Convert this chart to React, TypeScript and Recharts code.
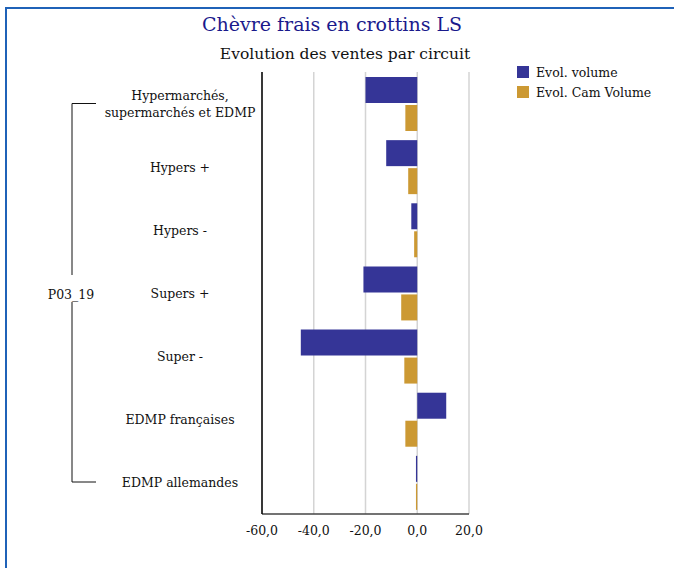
import { BarChart, Bar, XAxis, YAxis, CartesianGrid, Legend } from "recharts";

const circuits = [
  "Hypermarchés,\nsupermarchés et EDMP",
  "Hypers +",
  "Hypers -",
  "Supers +",
  "Super -",
  "EDMP françaises",
  "EDMP allemandes",
];
const evolVolume = [-20.0, -12.0, -2.3, -20.8, -45.0, 11.2, -0.5];
const evolCamVolume = [-4.6, -3.5, -1.2, -6.2, -5.0, -4.6, -0.5];
const xTicks = [-60, -40, -20, 0, 20];
const seriesNames = ["Evol. volume", "Evol. Cam Volume"];

const data = circuits.map((c, i) => ({
  circuit: c,
  volume: evolVolume[i],
  cam: evolCamVolume[i],
}));

const FONT = "'DejaVu Serif', serif";
const VOLUME_COLOR = "#353597";
const CAM_COLOR = "#cc9933";
const LABEL_X = 180;

const fmt = (v: number) => v.toFixed(1).replace(".", ",");

const CategoryTick = ({ y, payload }: any) => {
  const lines = String(payload.value).split("\n");
  const lh = 17;
  const start = y - ((lines.length - 1) * lh) / 2;
  return (
    <text
      x={LABEL_X}
      y={start}
      textAnchor="middle"
      dominantBaseline="central"
      fontFamily={FONT}
      fontSize={12.5}
      fill="#111"
    >
      {lines.map((l: string, i: number) => (
        <tspan key={i} x={LABEL_X} dy={i === 0 ? 0 : lh}>
          {l}
        </tspan>
      ))}
    </text>
  );
};

const LegendContent = ({ payload }: any) => {
  const items = [...(payload || [])].sort(
    (a: any, b: any) => seriesNames.indexOf(a.value) - seriesNames.indexOf(b.value)
  );
  return (
    <div style={{ fontFamily: FONT, fontSize: 12.5, color: "#111" }}>
      {items.map((p: any) => (
        <div key={p.value} style={{ display: "flex", alignItems: "center", height: 20 }}>
          <span style={{ width: 12, height: 12, background: p.color, marginRight: 7 }} />
          {p.value}
        </div>
      ))}
    </div>
  );
};

export default function App() {
  return (
    <div
      style={{
        position: "absolute",
        left: 0,
        top: 0,
        width: 674,
        height: 568,
        background: "#fff",
        overflow: "hidden",
      }}
    >
      <div
        style={{
          position: "absolute",
          left: 5,
          top: 7,
          width: 700,
          height: 600,
          borderTop: "2px solid #1f62b8",
          borderLeft: "2px solid #1f62b8",
        }}
      />
      <div
        style={{
          position: "absolute",
          left: 332,
          top: 13,
          transform: "translateX(-50%)",
          whiteSpace: "nowrap",
          fontFamily: FONT,
          fontSize: 19,
          color: "#1a1a8c",
        }}
      >
        Chèvre frais en crottins LS
      </div>
      <div
        style={{
          position: "absolute",
          left: 345,
          top: 45,
          transform: "translateX(-50%)",
          whiteSpace: "nowrap",
          fontFamily: FONT,
          fontSize: 15.5,
          color: "#111",
        }}
      >
        Evolution des ventes par circuit
      </div>
      <svg
        width={674}
        height={568}
        style={{ position: "absolute", left: 0, top: 0, pointerEvents: "none" }}
      >
        <path d="M96 103.5 H72 V275 M72 302 V482 H96" stroke="#111" strokeWidth={1} fill="none" />
        <text x={71} y={294} textAnchor="middle" dominantBaseline="central" fontFamily={FONT} fontSize={12.5} fill="#111">
          P03_19
        </text>
      </svg>
      <div style={{ position: "absolute", left: 0, top: 0 }}>
        <BarChart
          width={674}
          height={568}
          data={data}
          layout="vertical"
          margin={{ top: 72, right: 205, bottom: 24, left: 0 }}
          barSize={26}
          barGap={2}
        >
          <CartesianGrid horizontal={false} stroke="#d4d4d4" strokeWidth={1.5} />
          <XAxis
            type="number"
            domain={[-60, 20]}
            ticks={xTicks}
            tickFormatter={fmt}
            tickLine={false}
            axisLine={{ stroke: "#444", strokeWidth: 1.5 }}
            tick={{ fill: "#111", fontSize: 12.5, fontFamily: FONT }}
            tickMargin={6}
            height={30}
            interval={0}
          />
          <YAxis
            type="category"
            dataKey="circuit"
            width={262}
            tickLine={false}
            axisLine={{ stroke: "#000", strokeWidth: 1.5 }}
            tick={<CategoryTick />}
            interval={0}
          />
          <Legend
            layout="vertical"
            verticalAlign="middle"
            align="center"
            content={<LegendContent />}
            wrapperStyle={{ position: "absolute", left: 517, top: 62, width: 160 }}
          />
          <Bar dataKey="volume" name="Evol. volume" fill={VOLUME_COLOR} isAnimationActive={false} />
          <Bar dataKey="cam" name="Evol. Cam Volume" fill={CAM_COLOR} isAnimationActive={false} />
        </BarChart>
      </div>
    </div>
  );
}
